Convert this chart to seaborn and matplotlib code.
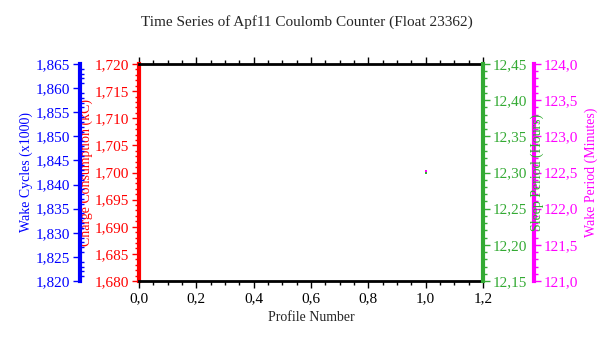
import matplotlib
matplotlib.use("Agg")
import matplotlib.pyplot as plt
import seaborn as sns
import pandas as pd
from matplotlib.ticker import MultipleLocator, FuncFormatter

sns.set_theme(style="white")
plt.rcParams['font.family'] = ['Liberation Serif', 'DejaVu Serif']

profile = [1.0]
wake_cycles = [1.8423]
charge = [1.7001]
sleep_period = [12.30]
wake_period = [122.52]

df = pd.DataFrame({"profile": profile, "wake": wake_cycles, "charge": charge,
                   "sleep": sleep_period, "wperiod": wake_period})

fig = plt.figure(figsize=(6.14, 3.38), dpi=100)
ax = fig.add_axes([139/614, 1-281/338, 344/614, 217/338])

BLUE = "#0000ff"
RED = "#ff0000"
GREEN = "#33aa33"
MAG = "#ff00ff"
W = 344.0

def comma(dec):
    return FuncFormatter(lambda v, p: f"{v:.{dec}f}".replace(".", ","))

def place_label(a, x_px):
    a.yaxis.label.set_va("center")
    a.yaxis.label.set_ha("center")
    a.yaxis.set_label_coords((x_px - 139) / W, 0.5)

# main (red) axis
sns.scatterplot(data=df, x="profile", y="charge", ax=ax, color=RED, marker="s",
                s=4, linewidth=0, zorder=3)
ax.set_xlim(0, 1.2)
ax.set_ylim(1.680, 1.720)
ax.xaxis.set_major_locator(MultipleLocator(0.2))
ax.xaxis.set_minor_locator(MultipleLocator(0.05))
ax.xaxis.set_major_formatter(comma(1))
ax.yaxis.set_major_locator(MultipleLocator(0.005))
ax.yaxis.set_minor_locator(MultipleLocator(0.001))
ax.yaxis.set_major_formatter(comma(3))
ax.set_xlabel("Profile Number", fontsize=10, labelpad=4)
ax.set_ylabel("Charge Consumption (kC)", color=RED, fontsize=10)
place_label(ax, 86)
ax.tick_params(axis="x", which="both", direction="out", top=True, bottom=True,
               colors="black", labelsize=11, length=5, width=1, pad=3)
ax.tick_params(axis="x", which="minor", length=3)
ax.tick_params(axis="y", which="both", direction="out", colors=RED, labelsize=11,
               left=True, right=False, length=5, width=1, pad=2)
ax.tick_params(axis="y", which="minor", length=3)
for s in ["top", "bottom"]:
    ax.spines[s].set_color("black")
    ax.spines[s].set_linewidth(2)
ax.spines["left"].set_color(RED)
ax.spines["left"].set_linewidth(3)
ax.spines["right"].set_visible(False)

# blue axis (left, offset)
axb = ax.twinx()
sns.scatterplot(data=df, x="profile", y="wake", ax=axb, color=BLUE, marker="s",
                s=4, linewidth=0, zorder=3)
axb.set_ylim(1.820, 1.865)
axb.yaxis.set_label_position("left")
axb.yaxis.tick_left()
axb.spines["left"].set_position(("axes", (80-139)/W))
axb.spines["left"].set_visible(True)
axb.spines["left"].set_color(BLUE)
axb.spines["left"].set_linewidth(3)
for s in ["right", "top", "bottom"]:
    axb.spines[s].set_visible(False)
axb.yaxis.set_major_locator(MultipleLocator(0.005))
axb.yaxis.set_minor_locator(MultipleLocator(0.001))
axb.yaxis.set_major_formatter(comma(3))
axb.tick_params(axis="y", which="both", direction="out", colors=BLUE, labelsize=11,
                length=5, width=1, pad=2)
axb.tick_params(axis="y", which="minor", length=3, direction="in")
axb.set_ylabel("Wake Cycles (x1000)", color=BLUE, fontsize=10)
place_label(axb, 26)

# green axis (right)
axg = ax.twinx()
sns.scatterplot(data=df, x="profile", y="sleep", ax=axg, color=GREEN, marker="s",
                s=4, linewidth=0, zorder=3)
axg.set_ylim(12.15, 12.45)
for s in ["left", "top", "bottom"]:
    axg.spines[s].set_visible(False)
axg.spines["right"].set_color(GREEN)
axg.spines["right"].set_linewidth(3)
axg.yaxis.set_major_locator(MultipleLocator(0.05))
axg.yaxis.set_minor_locator(MultipleLocator(0.01))
axg.yaxis.set_major_formatter(comma(2))
axg.tick_params(axis="y", which="both", direction="out", colors=GREEN, labelsize=11,
                length=5, width=1, pad=2)
axg.tick_params(axis="y", which="minor", length=3)
axg.set_ylabel("")

# magenta axis (right, offset)
axm = ax.twinx()
sns.scatterplot(data=df, x="profile", y="wperiod", ax=axm, color=MAG, marker="s",
                s=4, linewidth=0, zorder=3)
axm.set_ylim(121.0, 124.0)
axm.spines["right"].set_position(("axes", (534-139)/W))
for s in ["left", "top", "bottom"]:
    axm.spines[s].set_visible(False)
axm.spines["right"].set_color(MAG)
axm.spines["right"].set_linewidth(3)
axm.yaxis.set_major_locator(MultipleLocator(0.5))
axm.yaxis.set_minor_locator(MultipleLocator(0.1))
axm.yaxis.set_major_formatter(comma(1))
axm.tick_params(axis="y", which="both", direction="out", colors=MAG, labelsize=11,
                length=5, width=1, pad=2)
axm.tick_params(axis="y", which="minor", length=3)
axm.set_ylabel("Wake Period (Minutes)", color=MAG, fontsize=10, rotation=90)
place_label(axm, 591)

for a in (ax, axb, axg, axm):
    a.set_xlim(0, 1.2)
    a.grid(False)
    a.patch.set_visible(False)

# green axis label drawn on top of the magenta spine, as in the reference
fig.text(537/614, 1-172.5/338, "Sleep Period (Hours)", color=GREEN, fontsize=10,
         rotation=90, ha="center", va="center", zorder=10)

fig.suptitle("Time Series of Apf11 Coulomb Counter (Float 23362)", fontsize=11,
             y=1-22/338, va="center")

fig.savefig("out.png", dpi=100)
